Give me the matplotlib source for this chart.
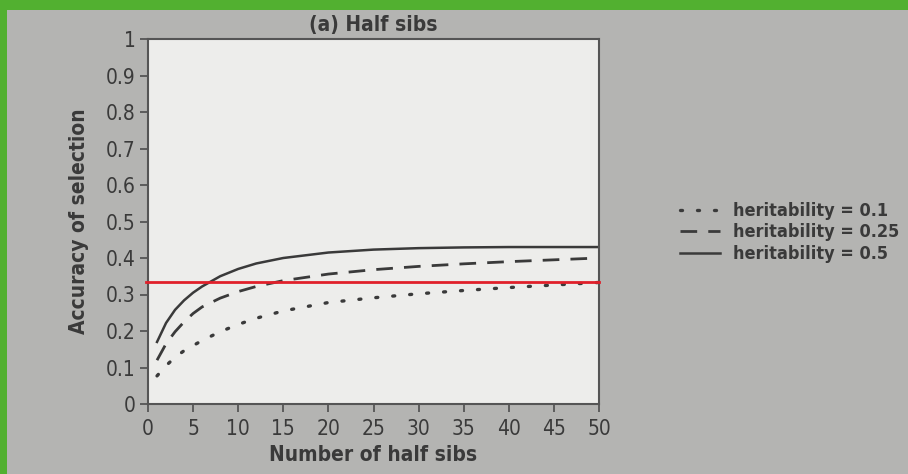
import matplotlib
matplotlib.use('Agg')
import matplotlib.pyplot as plt
from matplotlib.patches import Rectangle

# values
n_sibs = [1, 2, 3, 4, 5, 6, 8, 10, 12, 15, 20, 25, 30, 35, 40, 45, 50]
acc_h01 = [0.077, 0.105, 0.128, 0.146, 0.160, 0.174, 0.198, 0.218, 0.235, 0.255, 0.278, 0.291, 0.302, 0.311, 0.319, 0.326, 0.333]
acc_h025 = [0.120, 0.165, 0.198, 0.225, 0.248, 0.266, 0.290, 0.308, 0.322, 0.338, 0.356, 0.368, 0.377, 0.384, 0.390, 0.395, 0.400]
acc_h05 = [0.170, 0.222, 0.258, 0.284, 0.305, 0.322, 0.350, 0.370, 0.385, 0.400, 0.415, 0.423, 0.427, 0.429, 0.430, 0.430, 0.430]
labels = ['heritability = 0.1', 'heritability = 0.25', 'heritability = 0.5']
red_level = 0.334

xticks = list(range(0, 55, 5))
yticks = [0, 0.1, 0.2, 0.3, 0.4, 0.5, 0.6, 0.7, 0.8, 0.9, 1]
ytick_labels = ['0', '0.1', '0.2', '0.3', '0.4', '0.5', '0.6', '0.7', '0.8', '0.9', '1']

ink = '#3a3a3a'
cond = dict(family='DejaVu Sans', stretch='condensed')

fig = plt.figure(figsize=(9.08, 4.74), dpi=100)
fig.patch.set_facecolor('#52b030')
# grey page behind everything
page = Rectangle((7 / 908, 0), 1, 1 - 10 / 474, transform=fig.transFigure,
                 facecolor='#b4b4b2', edgecolor='none', zorder=-10)
fig.add_artist(page)

ax = fig.add_axes([148 / 908, 1 - 404 / 474, 451 / 908, 365 / 474])
ax.set_zorder(1)
ax.set_facecolor('#ededeb')

ax.plot(n_sibs, acc_h01, color=ink, lw=2.4, linestyle=(0, (0.6, 4.5)), dash_capstyle='round', label=labels[0])
ax.plot(n_sibs, acc_h025, color=ink, lw=2.0, linestyle=(0, (6, 4)), label=labels[1])
ax.plot(n_sibs, acc_h05, color=ink, lw=1.8, linestyle='-', label=labels[2])

ax.plot([-0.2, 50], [red_level, red_level], color='#e0202a', lw=2, clip_on=False, zorder=5)

ax.set_xlim(0, 50)
ax.set_ylim(0, 1)
ax.set_xticks(xticks)
ax.set_yticks(yticks)
ax.set_yticklabels(ytick_labels)
for s in ax.spines.values():
    s.set_color('#555555')
    s.set_linewidth(1.5)
ax.tick_params(direction='out', length=6, width=1.3, color='#555555', labelcolor=ink, labelsize=15, pad=3)
ax.tick_params(axis='x', pad=5)
for t in ax.get_xticklabels() + ax.get_yticklabels():
    t.set_family('DejaVu Sans')
    t.set_stretch('condensed')

ax.set_xlabel('Number of half sibs', fontweight='bold', fontsize=15, color=ink, labelpad=4, **cond)
ax.set_ylabel('Accuracy of selection', fontweight='bold', fontsize=15, color=ink, labelpad=12, **cond)
ax.set_title('(a) Half sibs', fontweight='bold', fontsize=15, color=ink, pad=6, **cond)

leg = ax.legend(loc='center left', bbox_to_anchor=(1.16, 0.47), frameon=False,
                handlelength=2.2, handletextpad=0.7, labelspacing=0.2, borderpad=0,
                prop={'family': 'DejaVu Sans', 'stretch': 'condensed', 'weight': 'bold', 'size': 13})
for t in leg.get_texts():
    t.set_color(ink)

fig.savefig('out.png', dpi=100, facecolor=fig.get_facecolor())
